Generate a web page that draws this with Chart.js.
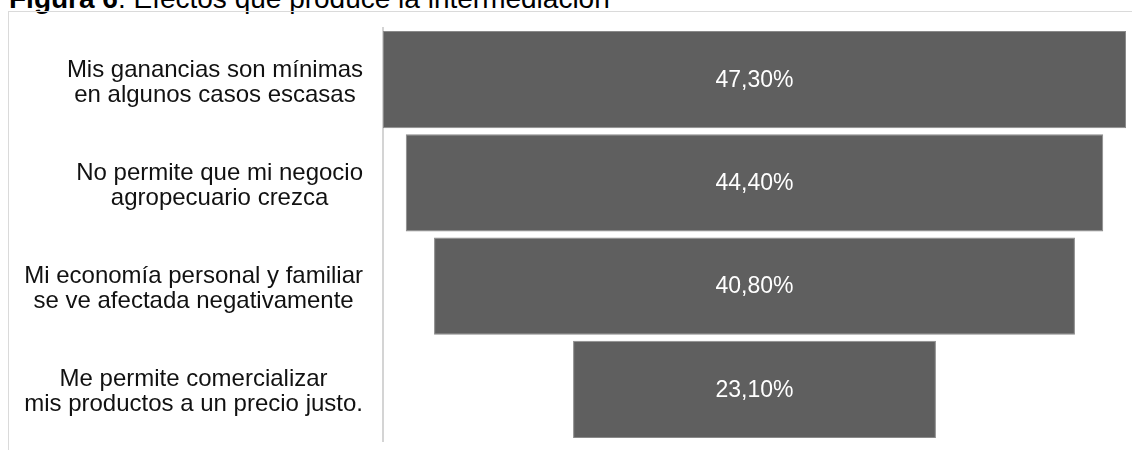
<!DOCTYPE html>
<html>
<head>
<meta charset="utf-8">
<script src="https://cdn.jsdelivr.net/npm/chart.js@4"></script>
<style>
  html, body { margin: 0; padding: 0; background: #fff; overflow: hidden; }
  body { width: 1132px; height: 450px; position: relative; font-family: "Liberation Sans", Arial, sans-serif; }
  #title { position: absolute; left: 9px; top: -15px; font-size: 28px; line-height: 28px; color: #000; white-space: nowrap; }
  #box { position: absolute; left: 8px; top: 11px; width: 1124px; height: 439px; box-sizing: border-box;
         border-top: 1px solid #dadada; border-left: 1px solid #dadada; }
  #chart { display: block; }
</style>
</head>
<body>
<div id="title"><b>Figura 6</b>. Efectos que produce la intermediación</div>
<div id="box"><canvas id="chart" width="1123" height="438"></canvas></div>
<script>
const categories = [
  ["Mis ganancias son mínimas", "en algunos casos escasas"],
  ["No permite que mi negocio", "agropecuario crezca"],
  ["Mi economía personal y familiar", "se ve afectada negativamente"],
  ["Me permite comercializar", "mis productos a un precio justo."]
];
const values = [47.3, 44.4, 40.8, 23.1];
const valueLabels = ["47,30%", "44,40%", "40,80%", "23,10%"];

const FONT = '"Liberation Sans", Arial, sans-serif';
const half = Math.max(...values) / 2;

// funnel: each bar floats around zero
const funnelData = values.map(v => [-v / 2, v / 2]);

const categoryLabels = {
  id: "categoryLabels",
  afterDraw(chart) {
    const ctx = chart.ctx;
    const yScale = chart.scales.y;
    const right = chart.chartArea.left - 20;
    ctx.save();
    ctx.font = "24px " + FONT;
    ctx.fillStyle = "#111";
    ctx.textAlign = "center";
    ctx.textBaseline = "alphabetic";
    categories.forEach((lines, i) => {
      const cy = yScale.getPixelForTick(i);
      const widest = Math.max(...lines.map(l => ctx.measureText(l).width));
      const cx = right - widest / 2;
      ctx.fillText(lines[0], cx, cy - 3);
      ctx.fillText(lines[1], cx, cy + 22);
    });
    ctx.restore();
  }
};

const valueText = {
  id: "valueText",
  afterDatasetsDraw(chart) {
    const ctx = chart.ctx;
    const meta = chart.getDatasetMeta(0);
    ctx.save();
    ctx.font = "23px " + FONT;
    ctx.fillStyle = "#fff";
    ctx.textAlign = "center";
    ctx.textBaseline = "middle";
    meta.data.forEach((bar, i) => {
      ctx.fillText(valueLabels[i], (bar.x + bar.base) / 2, bar.y + 1);
    });
    ctx.restore();
  }
};

new Chart(document.getElementById("chart").getContext("2d"), {
  type: "bar",
  data: {
    labels: categories,
    datasets: [{
      data: funnelData,
      backgroundColor: "#5f5f5f",
      borderColor: "#8a8a8a",
      borderWidth: 1,
      borderSkipped: false,
      barPercentage: 0.94,
      categoryPercentage: 1
    }]
  },
  options: {
    indexAxis: "y",
    responsive: false,
    animation: false,
    layout: { padding: { left: 366, right: 6, top: 16, bottom: 9 } },
    plugins: {
      legend: { display: false },
      tooltip: { enabled: false }
    },
    scales: {
      x: { display: false, min: -half, max: half },
      y: {
        grid: { display: false },
        ticks: { display: false },
        border: { display: true, color: "#d4d4d4", width: 2 }
      }
    }
  },
  plugins: [categoryLabels, valueText]
});
</script>
</body>
</html>
